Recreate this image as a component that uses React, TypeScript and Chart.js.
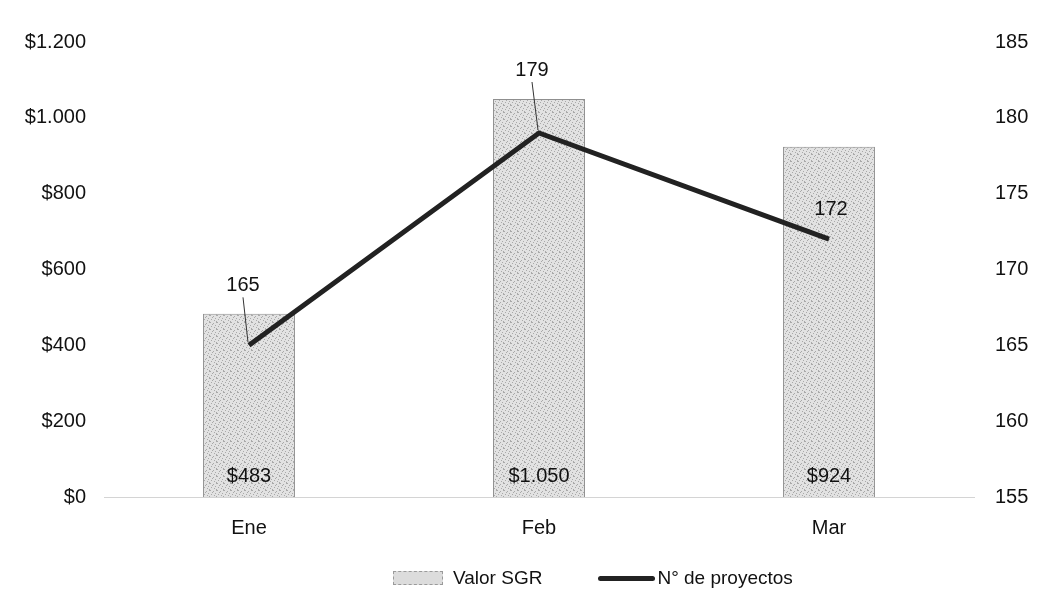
import React, { useEffect, useRef } from "react";
import { Chart, registerables } from "chart.js";

Chart.register(...registerables);

const categories = ["Ene", "Feb", "Mar"];
const valorSGR = [483, 1050, 924];
const proyectos = [165, 179, 172];
const leftAxis = { min: 0, max: 1200, step: 200 };
const rightAxis = { min: 155, max: 185, step: 5 };
const seriesNames = ["Valor SGR", "N° de proyectos"];

// label placement for line values (pixel offsets from point) — style only
const lineLabelOffsets = [
  { dx: -6, dy: -60, leader: true },
  { dx: -7, dy: -63, leader: true },
  { dx: 2, dy: -30, leader: false },
];

const FONT = "'Liberation Sans', Arial, sans-serif";
const TEXT = "#111111";
const LINE = "#222222";
const FS = 20;

const fmtMoney = (v: number) =>
  "$" + Math.round(v).toString().replace(/\B(?=(\d{3})+(?!\d))/g, ".");

function makePattern(): CanvasPattern | string {
  const c = document.createElement("canvas");
  c.width = 7;
  c.height = 7;
  const g = c.getContext("2d");
  if (!g) return "#dadada";
  g.fillStyle = "#e2e2e2";
  g.fillRect(0, 0, 7, 7);
  g.fillStyle = "#a9a9a9";
  const dots = [
    [0, 0], [3, 1], [5, 3], [1, 4], [4, 5], [6, 6], [2, 2], [6, 0],
  ];
  dots.forEach(([x, y]) => g.fillRect(x, y, 1, 1));
  const p = g.createPattern(c, "repeat");
  return p || "#dadada";
}

const labelsPlugin = {
  id: "valueLabels",
  afterDatasetsDraw(chart: any) {
    const ctx = chart.ctx;
    ctx.save();
    ctx.font = `${FS}px ${FONT}`;
    ctx.fillStyle = TEXT;
    ctx.textAlign = "center";
    ctx.textBaseline = "middle";
    const barMeta = chart.getDatasetMeta(0);
    const yL = chart.scales.y;
    barMeta.data.forEach((el: any, i: number) => {
      ctx.fillText(fmtMoney(valorSGR[i]), el.x, yL.getPixelForValue(0) - 21);
    });
    const lineMeta = chart.getDatasetMeta(1);
    lineMeta.data.forEach((el: any, i: number) => {
      const o = lineLabelOffsets[i];
      const lx = el.x + o.dx;
      const ly = el.y + o.dy;
      if (o.leader) {
        ctx.beginPath();
        ctx.strokeStyle = "#333";
        ctx.lineWidth = 1;
        ctx.moveTo(lx, ly + 12);
        ctx.lineTo(el.x - 1, el.y - 3);
        ctx.stroke();
      }
      ctx.fillText(String(proyectos[i]), lx, ly);
    });
    ctx.restore();
  },
};

function ChartView() {
  const ref = useRef<HTMLCanvasElement | null>(null);
  useEffect(() => {
    document.body.style.margin = "0";
    if (!ref.current) return;
    const pattern = makePattern();
    const chart = new Chart(ref.current, {
      type: "bar",
      data: {
        labels: categories,
        datasets: [
          {
            type: "bar",
            label: seriesNames[0],
            data: valorSGR,
            backgroundColor: pattern as any,
            borderColor: "#8f8f8f",
            borderWidth: 1,
            yAxisID: "y",
            categoryPercentage: 1,
            barPercentage: 0.317,
            order: 2,
          },
          {
            type: "line",
            label: seriesNames[1],
            data: proyectos,
            borderColor: LINE,
            backgroundColor: LINE,
            borderWidth: 5,
            pointRadius: 0,
            tension: 0,
            yAxisID: "y1",
            order: 1,
          },
        ],
      },
      options: {
        responsive: false,
        animation: false,
        layout: { padding: { top: 42, left: 0, right: 0, bottom: 0 } },
        plugins: {
          legend: { display: false },
          tooltip: { enabled: false },
        },
        scales: {
          x: {
            grid: { display: false, drawTicks: false },
            border: { display: true, color: "#d4d4d4", width: 1 },
            ticks: { color: TEXT, font: { family: FONT, size: FS }, padding: 19 },
            afterFit: (s: any) => {
              s.height = 608 - 497;
            },
          },
          y: {
            position: "left",
            min: leftAxis.min,
            max: leftAxis.max,
            grid: { display: false, drawTicks: false },
            border: { display: false },
            ticks: {
              stepSize: leftAxis.step,
              color: TEXT,
              font: { family: FONT, size: FS },
              padding: 18,
              callback: (v: any) => fmtMoney(Number(v)),
            },
            afterFit: (s: any) => {
              s.width = 104;
            },
          },
          y1: {
            position: "right",
            min: rightAxis.min,
            max: rightAxis.max,
            grid: { display: false, drawTicks: false },
            border: { display: false },
            ticks: {
              stepSize: rightAxis.step,
              color: TEXT,
              font: { family: FONT, size: FS },
              padding: 21,
            },
            afterFit: (s: any) => {
              s.width = 1041 - 974;
            },
          },
        },
      },
      plugins: [labelsPlugin],
    });
    return () => chart.destroy();
  }, []);
  return <canvas ref={ref} width={1041} height={608} style={{ display: "block" }} />;
}

export default function App() {
  return (
    <div style={{ position: "relative", width: 1041, height: 608, fontFamily: FONT }}>
      <ChartView />
      <div
        style={{
          position: "absolute",
          left: 393,
          top: 566,
          height: 24,
          display: "flex",
          alignItems: "center",
          fontSize: 19,
          color: TEXT,
          whiteSpace: "nowrap",
        }}
      >
        <span
          style={{
            display: "inline-block",
            width: 48,
            height: 12,
            background: "#dcdcdc",
            border: "1px dashed #9a9a9a",
          }}
        />
        <span style={{ marginLeft: 10 }}>{seriesNames[0]}</span>
        <span
          style={{
            display: "inline-block",
            marginLeft: 56,
            width: 57,
            height: 5,
            borderRadius: 3,
            background: LINE,
          }}
        />
        <span style={{ marginLeft: 2 }}>{seriesNames[1]}</span>
      </div>
    </div>
  );
}
